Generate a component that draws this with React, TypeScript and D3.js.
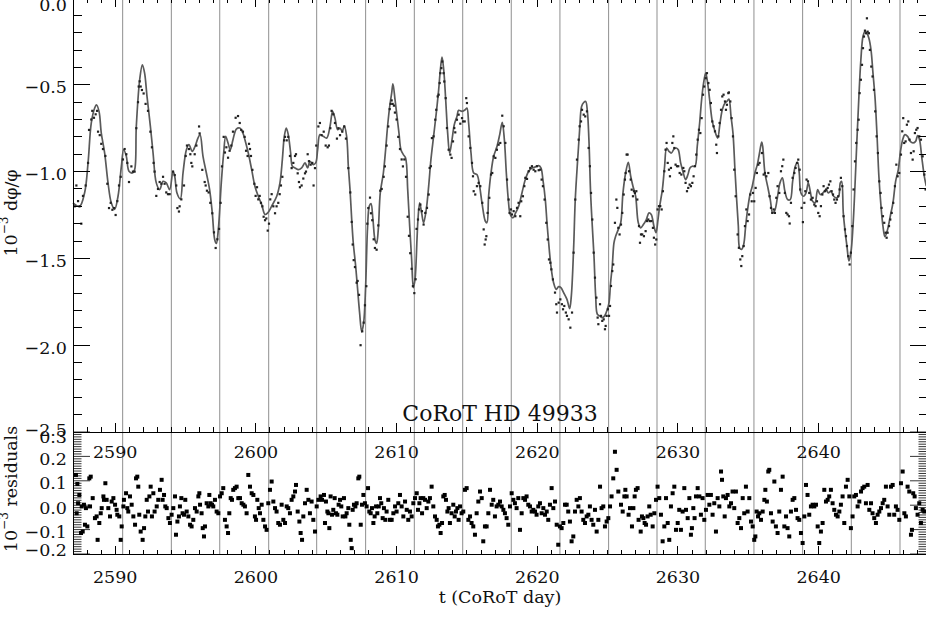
import React from 'react';
import * as d3 from 'd3';

// Model (smooth spot model): [CoRoT day, 10^-3 dphi/phi]
const modelCurve: [number, number][] = [
[2587.00,-1.18],[2587.47,-1.20],[2587.83,-1.12],[2588.07,-0.95],[2588.30,-0.72],[2588.54,-0.634],[2588.66,-0.615],[2588.85,-0.653],[2589.01,-0.778],[2589.25,-0.893],[2589.49,-1.065],[2589.72,-1.18],[2589.96,-1.218],[2590.20,-1.142],[2590.44,-0.969],[2590.60,-0.874],[2590.79,-0.912],[2590.98,-0.998],[2591.22,-1.008],[2591.38,-0.989],[2591.50,-0.739],[2591.74,-0.471],[2591.93,-0.385],[2592.09,-0.433],[2592.26,-0.567],[2592.50,-0.739],[2592.69,-0.893],[2592.92,-1.065],[2593.16,-1.104],[2593.40,-1.056],[2593.63,-1.065],[2593.87,-1.104],[2594.11,-0.998],[2594.23,-1.027],[2594.39,-1.123],[2594.63,-1.157],[2594.82,-1.008],[2595.06,-0.874],[2595.24,-0.845],[2595.48,-0.883],[2595.69,-0.851],[2595.88,-0.807],[2596.03,-0.787],[2596.24,-0.912],[2596.48,-1.008],[2596.71,-1.104],[2596.90,-1.238],[2597.07,-1.391],[2597.19,-1.414],[2597.33,-1.333],[2597.54,-1.065],[2597.71,-0.893],[2597.85,-0.797],[2598.02,-0.835],[2598.18,-0.874],[2598.37,-0.816],[2598.61,-0.755],[2598.85,-0.749],[2599.08,-0.778],[2599.22,-0.816],
[2599.46,-0.893],[2599.70,-0.989],[2599.93,-1.084],[2600.17,-1.142],[2600.41,-1.19],[2600.65,-1.247],[2600.84,-1.238],[2601.12,-1.199],[2601.48,-1.142],[2601.71,-1.065],[2601.88,-0.931],[2602.02,-0.797],[2602.16,-0.749],[2602.30,-0.787],[2602.47,-0.893],[2602.59,-0.969],[2602.78,-0.979],[2603.02,-0.989],[2603.25,-0.979],[2603.49,-0.95],[2603.68,-0.979],[2603.84,-0.941],[2604.08,-0.96],[2604.25,-0.95],[2604.39,-0.874],[2604.55,-0.787],[2604.79,-0.797],[2605.03,-0.807],[2605.27,-0.739],[2605.45,-0.653],[2605.62,-0.692],[2605.81,-0.759],[2605.98,-0.749],[2606.14,-0.768],[2606.28,-0.736],[2606.45,-0.797],[2606.57,-0.969],[2606.69,-1.104],[2606.81,-1.276],[2606.92,-1.41],[2607.09,-1.544],[2607.23,-1.678],[2607.37,-1.812],[2607.52,-1.923],[2607.66,-1.87],[2607.80,-1.659],[2607.94,-1.314],[2608.06,-1.199],[2608.18,-1.184],[2608.32,-1.276],[2608.46,-1.391],[2608.58,-1.414],[2608.70,-1.333],[2608.84,-1.123],[2609.06,-1.008],[2609.22,-0.874],[2609.36,-0.739],[2609.51,-0.625],[2609.65,-0.548],[2609.74,-0.494],[2609.89,-0.586],[2610.03,-0.682],[2610.17,-0.778],[2610.31,-0.874],[2610.48,-0.902],[2610.64,-0.922],[2610.79,-1.104],[2610.93,-1.314],[2611.07,-1.506],[2611.19,-1.669],[2611.31,-1.621],[2611.45,-1.391],
[2611.52,-1.276],[2611.64,-1.18],[2611.78,-1.238],[2611.92,-1.295],[2612.11,-1.218],[2612.28,-1.084],[2612.44,-0.931],[2612.63,-0.797],[2612.82,-0.663],[2612.99,-0.529],[2613.11,-0.414],[2613.23,-0.341],[2613.35,-0.414],[2613.49,-0.586],[2613.63,-0.778],[2613.77,-0.893],[2613.94,-0.816],[2614.10,-0.73],[2614.29,-0.682],[2614.41,-0.647],[2614.65,-0.653],[2614.88,-0.644],[2615.00,-0.634],[2615.12,-0.72],[2615.29,-0.893],[2615.48,-1.008],[2615.71,-1.017],[2615.90,-1.084],[2616.07,-1.18],[2616.31,-1.286],[2616.42,-1.295],[2616.54,-1.142],[2616.71,-1.008],[2616.90,-0.912],[2617.14,-0.854],[2617.33,-0.787],[2617.51,-0.716],[2617.66,-0.816],[2617.80,-1.008],[2617.94,-1.161],[2618.08,-1.247],[2618.27,-1.266],[2618.46,-1.238],[2618.68,-1.199],[2618.91,-1.123],[2619.15,-1.046],[2619.39,-0.998],[2619.62,-0.979],[2619.86,-0.973],[2620.10,-0.966],[2620.26,-0.979],[2620.40,-1.046],[2620.57,-1.161],[2620.69,-1.295],[2620.81,-1.41],[2620.97,-1.544],[2621.16,-1.64],[2621.35,-1.678],[2621.52,-1.663],[2621.68,-1.669],[2621.87,-1.697],[2622.11,-1.736],[2622.30,-1.789],[2622.42,-1.716],[2622.58,-1.448],[2622.70,-1.161],[2622.87,-0.931],[2623.01,-0.759],[2623.15,-0.625],[2623.30,-0.602],[2623.44,-0.596],[2623.56,-0.653],[2623.67,-0.816],
[2623.79,-1.123],[2623.91,-1.314],[2624.03,-1.487],[2624.15,-1.717],[2624.27,-1.822],[2624.43,-1.831],[2624.62,-1.841],[2624.79,-1.831],[2624.98,-1.793],[2625.10,-1.755],[2625.21,-1.64],[2625.33,-1.544],[2625.45,-1.41],[2625.57,-1.372],[2625.76,-1.333],[2625.93,-1.295],[2626.09,-1.123],[2626.28,-1.008],[2626.47,-0.946],[2626.64,-1.027],[2626.80,-1.084],[2626.99,-1.142],[2627.18,-1.295],[2627.35,-1.324],[2627.54,-1.305],[2627.75,-1.276],[2627.94,-1.238],[2628.10,-1.247],[2628.29,-1.314],[2628.44,-1.352],[2628.58,-1.276],[2628.70,-1.199],[2628.89,-1.104],[2629.05,-0.969],[2629.19,-0.864],[2629.36,-0.883],[2629.53,-0.893],[2629.72,-0.87],[2629.88,-0.864],[2630.02,-0.874],[2630.19,-0.95],[2630.38,-1.008],[2630.54,-1.046],[2630.71,-1.017],[2630.85,-0.979],[2631.02,-0.969],[2631.21,-0.969],[2631.37,-0.854],[2631.54,-0.72],[2631.68,-0.586],[2631.82,-0.49],[2631.97,-0.433],[2632.11,-0.49],[2632.25,-0.586],[2632.44,-0.711],[2632.63,-0.768],[2632.82,-0.807],[2632.99,-0.72],[2633.15,-0.644],[2633.34,-0.605],[2633.48,-0.596],[2633.62,-0.582],[2633.77,-0.682],[2633.91,-0.778],[2634.05,-0.989],[2634.17,-1.161],[2634.29,-1.314],[2634.38,-1.439],[2634.52,-1.448],[2634.67,-1.42],[2634.81,-1.314],[2634.95,-1.218],[2635.12,-1.132],[2635.28,-1.084],[2635.47,-1.008],[2635.64,-0.96],[2635.78,-0.90],[2635.95,-0.83],
[2636.02,-0.854],[2636.18,-1.008],[2636.37,-1.084],[2636.56,-1.161],[2636.73,-1.238],[2636.89,-1.222],[2637.08,-1.142],[2637.25,-1.065],[2637.42,-1.036],[2637.60,-1.113],[2637.79,-1.161],[2637.98,-1.161],[2638.15,-1.056],[2638.34,-0.969],[2638.50,-0.946],[2638.62,-1.008],[2638.74,-1.123],[2638.93,-1.142],[2639.10,-1.123],[2639.26,-1.065],[2639.40,-1.113],[2639.57,-1.171],[2639.74,-1.18],[2639.93,-1.103],[2640.11,-1.132],[2640.30,-1.123],[2640.52,-1.103],[2640.68,-1.123],[2640.87,-1.113],[2641.06,-1.142],[2641.25,-1.151],[2641.42,-1.142],[2641.54,-1.065],[2641.63,-1.056],[2641.75,-1.238],[2641.89,-1.352],[2642.01,-1.429],[2642.15,-1.515],[2642.29,-1.467],[2642.44,-1.314],[2642.58,-1.084],[2642.72,-0.816],[2642.86,-0.567],[2643.00,-0.356],[2643.15,-0.222],[2643.29,-0.193],[2643.43,-0.203],[2643.57,-0.232],[2643.72,-0.299],[2643.86,-0.433],[2644.00,-0.567],[2644.14,-0.778],[2644.28,-1.027],[2644.43,-1.199],[2644.57,-1.314],[2644.71,-1.375],[2644.90,-1.333],[2645.09,-1.257],[2645.28,-1.18],[2645.47,-1.056],[2645.66,-0.989],[2645.80,-0.893],[2645.97,-0.816],[2646.13,-0.787],[2646.32,-0.797],[2646.51,-0.826],[2646.70,-0.835],[2646.89,-0.826],[2647.03,-0.793],[2647.17,-0.816],[2647.32,-0.912],[2647.51,-1.027],[2647.65,-1.084]
];

// Observed photometry points: [CoRoT day, 10^-3 dphi/phi]
const observed: [number, number][] = [
[2587.12,-1.20],[2587.24,-1.08],[2587.36,-1.17],[2587.47,-1.20],[2587.59,-1.30],[2587.71,-1.14],[2587.90,-1.08],[2588.07,-0.95],[2588.14,-0.76],[2588.30,-0.70],[2588.37,-0.65],[2588.49,-0.69],[2588.61,-0.67],[2588.71,-0.65],[2588.78,-0.77],[2588.90,-0.79],[2589.01,-0.84],[2589.13,-0.87],[2589.30,-0.91],[2589.44,-1.07],[2589.56,-1.21],[2589.68,-1.18],[2589.80,-1.22],[2589.91,-1.21],[2590.03,-1.25],[2590.15,-1.17],[2590.27,-1.08],[2590.39,-1.03],[2590.55,-0.93],[2590.67,-0.87],[2590.79,-0.90],[2590.86,-0.95],[2590.98,-1.06],[2591.15,-0.97],[2591.26,-1.00],[2591.38,-1.00],[2591.50,-0.75],[2591.62,-0.60],[2591.67,-0.51],[2591.74,-0.48],[2591.81,-0.51],[2591.90,-0.53],[2592.02,-0.55],[2592.16,-0.61],[2592.33,-0.65],[2592.50,-0.77],[2592.61,-0.86],[2592.73,-0.95],[2592.80,-1.00],[2592.92,-1.14],[2593.04,-1.10],[2593.16,-1.06],[2593.28,-1.07],[2593.40,-1.03],[2593.51,-1.07],[2593.63,-1.12],[2593.75,-1.13],[2593.87,-1.13],[2594.11,-1.00],[2594.23,-1.02],[2594.34,-1.08],[2594.42,-1.21],[2594.53,-1.23],[2594.58,-1.20],[2594.70,-1.16],[2594.89,-1.08],[2595.01,-0.91],[2595.10,-0.85],[2595.24,-0.87],[2595.34,-0.90],[2595.41,-0.95],[2595.48,-0.97],[2595.65,-0.90],[2595.77,-0.85],[2595.96,-0.74],[2596.00,-0.78],[2596.19,-0.99],[2596.36,-1.06],[2596.43,-1.08],[2596.52,-1.11],[2596.64,-1.12],[2596.76,-1.18],[2596.90,-1.24],[2597.02,-1.35],[2597.14,-1.44],[2597.26,-1.39],[2597.38,-1.33],[2597.49,-1.18],[2597.59,-0.97],[2597.71,-0.80],[2597.80,-0.89],[2597.90,-0.86],[2598.02,-0.92],[2598.13,-0.88],[2598.25,-0.85],[2598.37,-0.77],[2598.56,-0.69],[2598.73,-0.68],[2598.85,-0.72],[2598.96,-0.76],[2599.08,-0.77],[2599.20,-0.80],
[2599.30,-0.88],[2599.41,-0.91],[2599.51,-0.84],[2599.58,-0.87],[2599.65,-0.91],[2599.75,-0.99],[2599.89,-1.07],[2599.98,-1.14],[2600.08,-1.09],[2600.17,-1.16],[2600.27,-1.14],[2600.36,-1.18],[2600.46,-1.20],[2600.55,-1.26],[2600.65,-1.28],[2600.74,-1.27],[2600.84,-1.34],[2600.93,-1.30],[2601.02,-1.16],[2601.12,-1.13],[2601.24,-1.20],[2601.36,-1.24],[2601.47,-1.20],[2601.59,-1.18],[2601.69,-1.13],[2601.78,-1.08],[2601.88,-1.03],[2602.00,-0.82],[2602.07,-0.80],[2602.19,-0.82],[2602.30,-0.80],[2602.42,-0.91],[2602.54,-0.98],[2602.66,-0.95],[2602.78,-0.91],[2602.85,-0.90],[2602.97,-1.01],[2603.06,-1.06],[2603.13,-1.09],[2603.25,-1.08],[2603.37,-1.04],[2603.49,-1.01],[2603.56,-1.00],[2603.68,-0.90],[2603.77,-0.94],[2603.89,-0.96],[2604.01,-0.95],[2604.10,-1.08],[2604.20,-0.98],[2604.29,-0.85],[2604.44,-0.74],[2604.55,-0.72],[2604.67,-0.79],[2604.82,-0.77],[2604.96,-0.85],[2605.10,-0.86],[2605.19,-0.85],[2605.29,-0.75],[2605.38,-0.65],[2605.50,-0.67],[2605.62,-0.72],[2605.76,-0.81],[2605.86,-0.75],[2605.98,-0.79],[2606.14,-0.77],[2606.28,-0.74],[2606.40,-0.81],[2606.57,-0.98],[2606.71,-1.12],[2606.81,-1.29],[2606.88,-1.42],[2606.95,-1.51],[2607.04,-1.55],[2607.16,-1.64],[2607.23,-1.63],[2607.33,-1.71],[2607.44,-2.00],[2607.56,-1.92],[2607.66,-1.87],[2607.75,-1.77],[2607.85,-1.66],[2607.92,-1.30],[2607.99,-1.21],[2608.11,-1.15],[2608.18,-1.24],[2608.27,-1.28],[2608.37,-1.39],[2608.46,-1.44],[2608.58,-1.45],[2608.70,-1.31],[2608.84,-1.11],[2608.94,-1.10],[2609.08,-1.03],[2609.17,-0.97],[2609.29,-0.85],[2609.41,-0.74],[2609.51,-0.64],[2609.58,-0.61],[2609.65,-0.59],[2609.72,-0.61],[2609.81,-0.62],[2609.88,-0.66],[2610.00,-0.70],[2610.12,-0.80],[2610.24,-0.87],[2610.36,-0.93],[2610.45,-0.97],[2610.55,-0.93],[2610.67,-1.03],[2610.79,-1.26],[2610.88,-1.37],[2610.97,-1.47],[2611.07,-1.56],[2611.16,-1.66],[2611.26,-1.70],[2611.35,-1.62],[2611.42,-1.33],
[2611.52,-1.276],[2611.59,-1.218],[2611.69,-1.19],[2611.80,-1.228],[2611.92,-1.305],[2612.04,-1.238],[2612.16,-1.209],[2612.28,-1.132],[2612.35,-0.979],[2612.44,-0.969],[2612.51,-0.807],[2612.63,-0.797],[2612.75,-0.701],[2612.82,-0.644],[2612.92,-0.567],[2612.99,-0.557],[2613.06,-0.49],[2613.11,-0.433],[2613.18,-0.404],[2613.25,-0.366],[2613.34,-0.433],[2613.39,-0.481],[2613.49,-0.577],[2613.58,-0.749],[2613.70,-0.874],[2613.82,-0.902],[2613.91,-0.921],[2614.01,-0.826],[2614.10,-0.749],[2614.17,-0.774],[2614.29,-0.701],[2614.41,-0.672],[2614.53,-0.724],[2614.65,-0.692],[2614.72,-0.711],[2614.84,-0.711],[2614.95,-0.577],[2615.00,-0.605],[2615.12,-0.797],[2615.24,-0.864],[2615.36,-0.95],[2615.43,-1.027],[2615.48,-1.113],[2615.59,-1.132],[2615.71,-1.084],[2615.83,-1.065],[2615.95,-1.084],[2616.09,-1.18],[2616.19,-1.333],[2616.26,-1.42],[2616.33,-1.391],[2616.38,-1.372],[2616.47,-1.238],[2616.59,-1.151],[2616.71,-1.017],[2616.80,-1.008],[2616.90,-0.912],[2617.02,-0.921],[2617.13,-0.874],[2617.25,-0.845],[2617.37,-0.835],[2617.51,-0.678],[2617.61,-0.739],[2617.73,-0.835],[2617.85,-1.046],[2617.96,-1.161],[2618.03,-1.238],[2618.13,-1.218],[2618.20,-1.247],[2618.32,-1.228],[2618.44,-1.257],[2618.56,-1.209],[2618.67,-1.18],[2618.79,-1.257],[2618.86,-1.171],[2618.98,-1.142],[2619.08,-1.084],[2619.15,-1.036],[2619.27,-1.042],[2619.39,-0.998],[2619.50,-0.979],[2619.62,-0.969],[2619.74,-0.989],[2619.86,-0.998],[2619.98,-0.969],[2620.10,-0.992],[2620.21,-0.989],[2620.31,-1.046],[2620.40,-1.084],[2620.52,-1.161],[2620.64,-1.295],[2620.74,-1.391],[2620.83,-1.506],[2620.93,-1.525],[2621.00,-1.563],[2621.11,-1.621],[2621.26,-1.697],[2621.35,-1.764],[2621.40,-1.812],[2621.52,-1.755],[2621.64,-1.736],[2621.75,-1.764],[2621.83,-1.793],[2621.92,-1.774],[2622.03,-1.812],[2622.11,-1.831],[2622.23,-1.851],[2622.35,-1.899],[2622.47,-1.812],[2622.58,-1.467],[2622.70,-1.161],[2622.82,-0.931],[2622.94,-0.816],[2623.01,-0.739],[2623.11,-0.711],[2623.18,-0.644],[2623.30,-0.672],[2623.41,-0.682],[2623.53,-0.653],[2623.65,-0.864],
[2623.74,-0.969],[2623.82,-1.123],[2623.91,-1.276],[2624.01,-1.467],[2624.10,-1.611],[2624.20,-1.726],[2624.29,-1.841],[2624.34,-1.879],[2624.46,-1.764],[2624.53,-1.831],[2624.62,-1.86],[2624.72,-1.851],[2624.81,-1.908],[2624.86,-1.889],[2624.93,-1.831],[2625.02,-1.793],[2625.10,-1.831],[2625.17,-1.774],[2625.24,-1.659],[2625.33,-1.573],[2625.40,-1.535],[2625.52,-1.295],[2625.62,-1.161],[2625.69,-1.209],[2625.76,-1.324],[2625.85,-1.362],[2625.95,-1.305],[2626.04,-1.238],[2626.14,-1.132],[2626.23,-1.046],[2626.28,-1.008],[2626.35,-0.902],[2626.42,-0.902],[2626.52,-0.998],[2626.64,-1.046],[2626.71,-1.104],[2626.80,-1.142],[2626.87,-1.113],[2626.94,-1.123],[2627.04,-1.113],[2627.11,-1.161],[2627.23,-1.314],[2627.30,-1.41],[2627.37,-1.362],[2627.46,-1.362],[2627.58,-1.372],[2627.70,-1.343],[2627.80,-1.285],[2627.89,-1.276],[2627.99,-1.285],[2628.10,-1.285],[2628.22,-1.324],[2628.29,-1.381],[2628.38,-1.42],[2628.46,-1.391],[2628.55,-1.218],[2628.65,-1.199],[2628.74,-1.199],[2628.84,-1.218],[2628.93,-1.113],[2629.03,-0.998],[2629.12,-0.874],[2629.19,-0.835],[2629.27,-0.95],[2629.36,-0.989],[2629.43,-1.027],[2629.50,-0.979],[2629.60,-0.835],[2629.67,-0.797],[2629.74,-0.864],[2629.83,-0.96],[2629.93,-0.969],[2630.02,-0.969],[2630.12,-1.008],[2630.24,-1.017],[2630.38,-0.979],[2630.45,-0.998],[2630.54,-1.065],[2630.64,-1.113],[2630.73,-1.094],[2630.83,-1.075],[2630.92,-1.084],[2631.02,-1.065],[2631.11,-1.027],[2631.21,-0.969],[2631.30,-0.902],[2631.40,-0.816],[2631.49,-0.759],[2631.59,-0.778],[2631.68,-0.692],[2631.78,-0.557],[2631.87,-0.51],[2631.97,-0.462],[2632.06,-0.433],[2632.16,-0.49],[2632.25,-0.529],[2632.34,-0.605],[2632.44,-0.711],[2632.53,-0.739],[2632.63,-0.768],[2632.72,-0.845],[2632.77,-0.893],[2632.87,-0.797],[2632.96,-0.72],[2633.06,-0.644],[2633.15,-0.567],[2633.24,-0.557],[2633.34,-0.596],[2633.41,-0.644],[2633.48,-0.615],[2633.58,-0.548],[2633.62,-0.544],[2633.72,-0.596],[2633.81,-0.692],[2633.91,-0.797],[2634.00,-0.989],[2634.10,-1.142],[2634.24,-1.362],[2634.33,-1.439],[2634.43,-1.506],[2634.50,-1.544],[2634.57,-1.487],[2634.67,-1.429],[2634.76,-1.314],[2634.86,-1.218],[2634.95,-1.285],[2635.05,-1.247],[2635.14,-1.132],[2635.24,-1.171],[2635.33,-1.123],[2635.42,-1.171],[2635.52,-1.094],[2635.61,-1.008],[2635.71,-0.96],[2635.80,-0.95],
[2635.97,-0.893],[2636.09,-1.017],[2636.18,-1.008],[2636.28,-1.027],[2636.42,-1.008],[2636.51,-1.142],[2636.61,-1.209],[2636.70,-1.238],[2636.80,-1.218],[2636.89,-1.238],[2636.99,-1.151],[2637.08,-1.084],[2637.20,-1.123],[2637.32,-0.998],[2637.41,-0.969],[2637.49,-0.931],[2637.60,-1.123],[2637.70,-1.238],[2637.79,-1.247],[2637.89,-1.257],[2637.94,-1.299],[2638.03,-1.18],[2638.15,-1.036],[2638.27,-1.008],[2638.36,-0.979],[2638.46,-0.95],[2638.55,-0.931],[2638.65,-0.989],[2638.69,-1.103],[2638.79,-1.209],[2638.88,-1.291],[2638.98,-1.18],[2639.05,-1.113],[2639.14,-1.046],[2639.24,-1.056],[2639.33,-1.123],[2639.45,-1.161],[2639.57,-1.151],[2639.69,-1.19],[2639.78,-1.199],[2639.88,-1.171],[2639.97,-1.238],[2640.07,-1.257],[2640.16,-1.199],[2640.26,-1.132],[2640.35,-1.084],[2640.45,-1.113],[2640.54,-1.103],[2640.64,-1.094],[2640.73,-1.075],[2640.83,-1.056],[2640.92,-1.113],[2641.02,-1.132],[2641.11,-1.161],[2641.20,-1.18],[2641.30,-1.161],[2641.39,-1.142],[2641.49,-1.103],[2641.58,-1.036],[2641.68,-1.084],[2641.77,-1.257],[2641.87,-1.333],[2641.94,-1.372],[2642.01,-1.429],[2642.10,-1.487],[2642.20,-1.535],[2642.29,-1.467],[2642.39,-1.314],[2642.48,-1.103],[2642.58,-0.941],[2642.67,-0.835],[2642.77,-0.759],[2642.84,-0.701],[2642.91,-0.548],[2643.00,-0.471],[2643.08,-0.385],[2643.15,-0.289],[2643.22,-0.222],[2643.29,-0.188],[2643.36,-0.203],[2643.43,-0.117],[2643.48,-0.194],[2643.57,-0.203],[2643.64,-0.299],[2643.74,-0.395],[2643.83,-0.452],[2643.93,-0.529],[2644.02,-0.653],[2644.12,-0.797],[2644.21,-0.893],[2644.31,-1.056],[2644.40,-1.123],[2644.47,-1.209],[2644.57,-1.257],[2644.66,-1.295],[2644.76,-1.352],[2644.83,-1.381],[2644.90,-1.352],[2645.00,-1.314],[2645.09,-1.276],[2645.19,-1.238],[2645.30,-1.18],[2645.42,-1.084],[2645.52,-0.96],[2645.61,-1.027],[2645.73,-1.008],[2645.85,-0.902],[2645.94,-0.768],[2646.01,-0.692],[2646.08,-0.835],[2646.18,-0.826],[2646.27,-0.73],[2646.37,-0.711],[2646.46,-0.816],[2646.56,-0.893],[2646.68,-0.931],[2646.75,-0.883],[2646.84,-0.778],[2646.94,-0.759],[2647.03,-0.749],[2647.15,-0.797],[2647.27,-0.816],[2647.39,-0.912],[2647.51,-1.017],[2647.60,-1.103]
];

// Residuals (observed - model): [CoRoT day, 10^-3 residual]
const residuals: [number, number][] = [
[2587.21,0.124],[2587.26,-0.033],[2587.31,0.087],[2587.36,0.008],[2587.45,0.042],[2587.57,-0.114],[2587.62,-0.005],[2587.69,-0.108],[2587.78,0.002],[2587.85,-0.080],[2587.92,-0.012],[2588.02,-0.087],[2588.16,0.110],[2588.21,-0.005],[2588.26,0.117],[2588.40,0.029],[2588.56,-0.053],[2588.68,-0.046],[2588.75,-0.142],[2588.87,-0.073],[2588.97,-0.033],[2589.04,-0.012],[2589.16,0.036],[2589.20,0.022],[2589.30,0.090],[2589.39,0.022],[2589.51,-0.012],[2589.63,-0.046],[2589.75,0.015],[2589.87,0.029],[2589.99,0.002],[2590.10,-0.019],[2590.15,-0.039],[2590.29,-0.046],[2590.39,-0.142],[2590.46,-0.087],[2590.58,-0.005],[2590.62,0.022],[2590.77,0.049],[2590.86,-0.012],[2590.93,-0.026],[2591.05,0.036],[2591.17,0.002],[2591.29,-0.046],[2591.41,-0.080],[2591.48,0.110],[2591.57,0.117],[2591.64,0.076],[2591.71,-0.039],[2591.81,-0.108],[2591.95,-0.142],[2592.05,-0.094],[2592.14,-0.046],[2592.24,0.022],[2592.33,-0.026],[2592.43,0.036],[2592.52,0.076],[2592.61,-0.046],[2592.71,0.049],[2592.80,-0.026],[2592.95,-0.005],[2593.06,0.022],[2593.18,0.063],[2593.30,0.104],[2593.37,0.022],[2593.47,0.042],[2593.56,-0.005],[2593.66,-0.012],[2593.78,-0.053],[2593.89,-0.073],[2594.01,-0.039],[2594.13,-0.012],[2594.25,0.036],[2594.32,-0.121],[2594.42,-0.067],[2594.53,-0.046],[2594.60,-0.005],[2594.70,0.029],[2594.79,-0.033],[2594.89,-0.039],[2594.98,0.022],[2595.08,-0.026],[2595.20,-0.046],[2595.32,-0.080],[2595.43,-0.087],[2595.55,-0.060],[2595.67,-0.012],[2595.79,-0.026],[2595.91,0.036],[2595.98,0.049],[2596.03,0.002],[2596.14,-0.033],[2596.22,-0.094],[2596.31,-0.128],[2596.38,-0.087],[2596.50,0.008],[2596.62,-0.005],[2596.69,0.042],[2596.78,0.008],[2596.88,0.002],[2596.97,-0.005],[2597.09,0.022],[2597.21,-0.026],[2597.33,-0.033],[2597.45,0.036],[2597.57,0.049],[2597.68,0.070],[2597.80,-0.060],[2597.92,-0.087],[2598.02,-0.114],[2598.11,-0.033],[2598.21,0.029],[2598.30,0.022],[2598.39,0.063],[2598.51,0.070],[2598.63,0.076],[2598.75,0.029],[2598.87,0.029],[2598.99,0.008],[2599.11,0.002],[2599.22,-0.005],[2599.34,-0.033],[2599.46,0.124],[2599.58,0.076],[2599.70,0.049],[2599.82,0.042],[2599.93,-0.046],[2600.01,-0.060],[2600.10,0.022],[2600.20,-0.012],[2600.29,-0.033],[2600.41,0.002],[2600.53,-0.060],[2600.65,-0.087],[2600.76,-0.101],[2600.88,0.008],[2601.00,0.063],[2601.12,0.097],[2601.24,0.015],[2601.36,-0.012],[2601.47,-0.026],[2601.59,-0.073],[2601.71,-0.080],[2601.83,0.002],[2601.95,-0.060],[2602.07,-0.073],[2602.19,-0.005],[2602.30,-0.012],[2602.42,-0.033],[2602.54,0.022],[2602.66,0.036],[2602.78,0.056],[2602.85,0.083],[2602.97,-0.026],[2603.09,-0.067],[2603.18,-0.114],[2603.28,-0.142],[2603.37,-0.046],[2603.49,0.008],[2603.61,0.063],[2603.73,0.022],[2603.84,-0.033],[2603.96,0.015],[2604.08,-0.060],[2604.20,-0.108],[2604.32,-0.005],[2604.44,0.022],
[2604.60,0.036],[2604.70,0.022],[2604.84,0.042],[2604.91,-0.073],[2604.98,0.015],[2605.08,-0.026],[2605.15,-0.033],[2605.22,-0.094],[2605.31,0.036],[2605.41,-0.039],[2605.50,-0.019],[2605.60,0.029],[2605.69,-0.033],[2605.79,-0.039],[2605.88,0.002],[2605.98,0.022],[2606.07,-0.005],[2606.17,-0.046],[2606.26,0.029],[2606.36,-0.046],[2606.45,-0.033],[2606.57,-0.012],[2606.64,-0.080],[2606.74,-0.142],[2606.81,-0.176],[2606.88,-0.019],[2606.97,0.002],[2607.07,-0.005],[2607.16,0.008],[2607.28,0.110],[2607.35,0.117],[2607.45,-0.080],[2607.54,0.002],[2607.64,0.042],[2607.75,0.008],[2607.87,-0.005],[2607.97,0.070],[2608.06,-0.026],[2608.16,-0.033],[2608.25,-0.012],[2608.35,-0.073],[2608.44,-0.046],[2608.54,-0.005],[2608.63,-0.033],[2608.73,-0.005],[2608.82,0.029],[2608.91,0.008],[2609.01,-0.053],[2609.10,-0.012],[2609.20,-0.060],[2609.29,-0.026],[2609.41,0.022],[2609.53,-0.060],[2609.65,-0.060],[2609.77,-0.033],[2609.89,-0.005],[2610.00,-0.026],[2610.12,0.008],[2610.24,0.042],[2610.36,-0.005],[2610.48,-0.046],[2610.60,0.015],[2610.72,-0.019],[2610.83,-0.060],[2610.95,-0.026],[2611.07,-0.046],[2611.19,0.008],[2611.31,0.029],[2611.43,0.049],[2611.52,-0.019],[2611.62,0.008],[2611.71,0.029],[2611.81,-0.033],[2611.90,0.029],[2612.02,0.022],[2612.14,-0.012],[2612.26,0.015],[2612.37,0.029],[2612.49,0.076],[2612.61,-0.005],[2612.73,-0.046],[2612.85,-0.060],[2612.94,-0.087],[2613.04,-0.080],[2613.13,-0.114],[2613.23,-0.073],[2613.32,0.036],[2613.42,0.042],[2613.51,0.022],[2613.61,-0.026],[2613.70,-0.012],[2613.79,-0.073],[2613.91,-0.033],[2614.03,0.002],[2614.13,-0.046],[2614.22,-0.026],[2614.32,-0.012],[2614.41,-0.060],[2614.51,-0.005],[2614.62,-0.033],[2614.74,-0.026],[2614.86,0.063],[2614.98,0.070],[2615.10,-0.060],[2615.22,-0.046],[2615.33,-0.073],[2615.45,-0.087],[2615.57,-0.121],[2615.69,-0.033],[2615.81,0.015],[2615.93,0.056],[2616.05,0.029],[2616.16,-0.148],[2616.28,-0.087],[2616.40,-0.087],[2616.52,-0.033],[2616.64,0.063],[2616.76,0.002],[2616.87,0.022],[2616.99,-0.046],[2617.11,-0.005],[2617.23,0.002],[2617.35,0.015],[2617.47,-0.005],[2617.59,-0.019],[2617.70,-0.033],[2617.82,-0.053],[2617.94,-0.080],[2618.06,-0.005],[2618.18,0.049],[2618.30,0.022],[2618.41,0.008],[2618.53,-0.012],[2618.65,0.029],[2618.77,-0.101],[2618.89,-0.033],[2619.01,0.029],[2619.13,0.022],[2619.24,0.036],[2619.36,0.002],[2619.48,-0.005],[2619.60,-0.026],[2619.72,-0.019],[2619.84,-0.026],[2619.95,-0.039],[2620.07,-0.005],[2620.19,0.008],[2620.31,-0.033],[2620.43,-0.012],[2620.55,-0.039],[2620.67,-0.026],[2620.78,-0.060],[2620.90,0.002],[2621.02,0.070],[2621.14,-0.012],[2621.26,0.015],[2621.38,-0.080],[2621.49,-0.162],[2621.61,-0.087],[2621.73,-0.094],[2621.85,-0.073],[2621.97,0.002],[2622.09,0.002],[2622.20,-0.026],[2622.32,-0.067],[2622.44,-0.148],[2622.56,-0.128],[2622.68,-0.026],[2622.80,0.022],[2622.92,-0.005],[2623.03,0.029],[2623.15,-0.026],[2623.27,-0.060],[2623.39,-0.073],[2623.51,-0.046],[2623.63,-0.039],[2623.74,-0.005],[2623.86,-0.060],[2623.98,-0.080],[2624.10,-0.019],[2624.22,-0.108],[2624.34,-0.060],[2624.46,0.076],[2624.57,-0.012],[2624.69,-0.005],[2624.81,-0.087],[2624.93,-0.067],[2625.05,-0.053],[2625.17,-0.005],[2625.28,0.036],[2625.40,0.110],[2625.52,0.219],[2625.64,0.145],[2625.76,0.056],
[2625.95,0.002],[2626.07,-0.026],[2626.19,0.036],[2626.26,0.063],[2626.35,0.036],[2626.49,-0.039],[2626.59,-0.012],[2626.73,-0.087],[2626.83,-0.012],[2626.92,0.036],[2627.01,0.063],[2627.13,0.070],[2627.20,-0.060],[2627.35,-0.108],[2627.44,-0.046],[2627.54,-0.053],[2627.63,-0.073],[2627.73,-0.080],[2627.84,-0.046],[2627.96,-0.005],[2628.06,-0.039],[2628.20,-0.087],[2628.32,-0.033],[2628.44,0.022],[2628.55,0.076],[2628.67,0.029],[2628.79,-0.039],[2628.91,-0.148],[2629.03,-0.087],[2629.15,0.029],[2629.27,-0.073],[2629.38,-0.142],[2629.50,-0.005],[2629.62,0.049],[2629.74,0.076],[2629.86,-0.101],[2629.98,-0.073],[2630.09,-0.019],[2630.21,-0.101],[2630.33,-0.026],[2630.45,0.070],[2630.57,-0.019],[2630.69,-0.053],[2630.81,0.029],[2630.92,-0.121],[2630.99,-0.094],[2631.09,-0.012],[2631.18,-0.053],[2631.28,0.036],[2631.40,0.070],[2631.52,0.036],[2631.63,-0.039],[2631.75,0.029],[2631.87,-0.060],[2631.99,-0.019],[2632.11,0.042],[2632.23,0.002],[2632.34,0.042],[2632.46,-0.039],[2632.58,0.008],[2632.70,-0.108],[2632.82,0.029],[2632.94,-0.005],[2633.06,0.138],[2633.13,0.104],[2633.22,0.036],[2633.32,-0.046],[2633.41,0.029],[2633.53,0.042],[2633.65,-0.005],[2633.77,0.008],[2633.88,0.056],[2634.00,-0.012],[2634.12,0.056],[2634.24,-0.073],[2634.36,-0.053],[2634.48,-0.094],[2634.60,0.029],[2634.71,-0.033],[2634.83,0.076],[2634.95,-0.026],[2635.07,0.029],[2635.19,-0.067],[2635.31,-0.087],[2635.42,-0.142],[2635.50,-0.128],[2635.59,-0.026],[2635.69,-0.046],[2635.78,-0.033],[2635.90,-0.060],[2636.02,-0.026],[2636.14,0.022],[2636.21,0.063],[2636.32,0.015],[2636.42,0.138],[2636.49,0.145],[2636.61,-0.033],[2636.73,-0.067],[2636.85,0.097],[2636.96,-0.087],[2637.08,-0.114],[2637.20,-0.026],[2637.32,0.063],[2637.44,0.117],[2637.56,-0.087],[2637.68,-0.046],[2637.79,-0.094],[2637.91,-0.128],[2638.03,-0.026],[2638.15,0.022],[2638.27,0.029],[2638.39,-0.019],[2638.50,-0.053],[2638.62,-0.060],[2638.74,-0.114],[2638.86,-0.155],[2638.98,-0.046],[2639.10,0.083],[2639.21,0.042],[2639.33,-0.039],[2639.45,-0.005],[2639.57,0.002],[2639.69,-0.005],[2639.81,0.002],[2639.93,-0.087],[2640.04,-0.155],[2640.16,-0.108],[2640.28,-0.073],[2640.40,0.063],[2640.52,0.015],[2640.64,0.022],[2640.75,0.036],[2640.87,0.063],[2640.99,0.008],[2641.11,-0.019],[2641.23,-0.039],[2641.35,-0.046],[2641.47,-0.026],[2641.58,0.002],[2641.70,0.036],[2641.82,-0.073],[2641.94,0.076],[2642.06,0.104],[2642.18,0.036],[2642.29,-0.094],[2642.41,-0.046],[2642.53,0.036],[2642.65,0.042],[2642.77,-0.005],[2642.89,0.015],[2643.01,0.056],[2643.12,0.070],[2643.24,0.076],[2643.36,0.008],[2643.48,0.083],[2643.60,-0.019],[2643.72,0.008],[2643.83,-0.033],[2643.95,-0.053],[2644.07,-0.073],[2644.19,-0.039],[2644.31,-0.026],[2644.43,-0.012],[2644.55,0.008],[2644.66,0.022],[2644.78,0.076],[2644.90,-0.005],[2645.02,-0.039],[2645.14,0.076],[2645.26,0.083],[2645.37,-0.039],[2645.49,-0.005],[2645.61,-0.019],[2645.73,-0.060],[2645.85,0.090],[2645.97,0.138],[2646.09,-0.033],[2646.20,-0.046],[2646.32,0.076],[2646.44,0.056],[2646.56,-0.121],[2646.63,-0.101],[2646.72,0.049],[2646.82,0.036],[2646.91,-0.012],[2647.03,-0.039],[2647.15,0.008],[2647.27,-0.073],[2647.39,-0.019],[2647.51,-0.026]
];

// Rotation-period markers (CoRoT day)
const rotationMarks = [2590.53, 2593.99, 2597.43, 2600.91, 2604.32, 2607.80, 2611.26, 2614.70, 2618.15, 2621.61, 2625.07, 2628.51, 2631.94, 2635.40, 2638.86, 2642.32, 2645.78];

const xTickLabels = [2590, 2600, 2610, 2620, 2630, 2640];
const yTopLabels = [0, -0.5, -1.0, -1.5, -2.0, -2.5];
const yResLabels = [0.3, 0.2, 0.1, 0.0, -0.1, -0.2];
const xDomain: [number, number] = [2587, 2647.7];
const yTopDomain: [number, number] = [0, -2.5];
const yResDomain: [number, number] = [0.3, -0.2];

const W = 926, H = 617;
const L = 73, R = 927, TOP = -2, MID = 432, BOT = 554;
const FONT = "'DejaVu Serif', 'Liberation Serif', serif";

const fmt = (v: number) => {
  const s = Math.abs(v).toFixed(1);
  return (v < -1e-9 ? '\u2212' : '') + s;
};

export default function App() {
  const x = d3.scaleLinear().domain(xDomain).range([L, R]);
  const yTop = d3.scaleLinear().domain(yTopDomain).range([TOP, MID]);
  const yRes = d3.scaleLinear().domain(yResDomain).range([MID, BOT]);

  const line = d3.line<[number, number]>()
    .x(d => x(d[0]))
    .y(d => yTop(d[1]))
    .curve(d3.curveCatmullRom.alpha(0.5));

  const xMinor = d3.range(2587, 2648, 1);
  const topMinor = d3.range(0, 26).map(i => ({ v: -i / 10, major: i % 5 === 0 }));
  const resMinor = d3.range(0, 51).map(i => ({ v: 0.3 - i / 100, major: i % 10 === 0 }));

  const tickStroke = { stroke: '#000', strokeWidth: 1, shapeRendering: 'crispEdges' as const };

  return (
    <svg width={W} height={H} style={{ position: 'absolute', left: 0, top: 0, background: '#fff' }}
      fontFamily={FONT}>
      <rect x={0} y={0} width={W} height={H} fill="#fff" />
      {/* rotation markers */}
      {rotationMarks.map((t, i) => (
        <line key={'rm' + i} x1={x(t)} x2={x(t)} y1={TOP} y2={BOT} stroke="#8f8f8f" strokeWidth={1} />
      ))}
      {/* model curve */}
      <path d={line(modelCurve) || ''} fill="none" stroke="#5a5a5a" strokeWidth={1.7} />
      {/* observed points */}
      {observed.map((d, i) => (
        <rect key={'o' + i} x={x(d[0]) - 1.1} y={yTop(d[1]) - 1.1} width={2.2} height={2.2} fill="#222" />
      ))}
      {/* residuals */}
      {residuals.map((d, i) => (
        <rect key={'r' + i} x={x(d[0]) - 2} y={yRes(d[1]) - 2} width={4} height={4} fill="#000" />
      ))}

      {/* frames */}
      <rect x={L} y={TOP} width={R - L} height={MID - TOP} fill="none" stroke="#000" strokeWidth={1} shapeRendering="crispEdges" />
      <rect x={L} y={MID} width={R - L} height={BOT - MID} fill="none" stroke="#000" strokeWidth={1} shapeRendering="crispEdges" />

      {/* x ticks */}
      {xMinor.map(t => {
        const major = t % 10 === 0;
        const xp = x(t);
        return (
          <g key={'xt' + t}>
            <line x1={xp} x2={xp} y1={TOP} y2={TOP + (major ? 9 : 5)} {...tickStroke} />
            <line x1={xp} x2={xp} y1={MID} y2={MID - (major ? 9 : 5)} {...tickStroke} />
            <line x1={xp} x2={xp} y1={BOT} y2={BOT - (major ? 8 : 4)} {...tickStroke} />
          </g>
        );
      })}
      {/* top panel y ticks */}
      {topMinor.map((d, i) => {
        const yp = yTop(d.v);
        const len = d.major ? 17 : 8.5;
        return (
          <g key={'yt' + i}>
            <line x1={L} x2={L + len} y1={yp} y2={yp} {...tickStroke} />
            <line x1={R} x2={R - len} y1={yp} y2={yp} {...tickStroke} />
          </g>
        );
      })}
      {/* residual panel y ticks */}
      {resMinor.map((d, i) => {
        const yp = yRes(d.v);
        const len = d.major ? 17 : 8.5;
        return (
          <g key={'yr' + i}>
            <line x1={L} x2={L + len} y1={yp} y2={yp} stroke="#000" strokeWidth={0.8} />
            <line x1={R} x2={R - len} y1={yp} y2={yp} stroke="#000" strokeWidth={0.8} />
          </g>
        );
      })}

      {/* labels */}
      <g fontSize={17.5} fill="#111">
        {yTopLabels.map((v, i) => {
          const c = Math.min(Math.max(yTop(v) + 2, 5), 430);
          return <text key={'ytl' + i} x={67} y={c + 6.3} textAnchor="end">{fmt(v)}</text>;
        })}
        {yResLabels.map((v, i) => {
          const c = Math.min(Math.max(yRes(v) + 2, 437), 550);
          return <text key={'yrl' + i} x={67} y={c + 6.3} textAnchor="end">{fmt(v)}</text>;
        })}
        {xTickLabels.map(t => (
          <text key={'xl1' + t} x={x(t)} y={458} textAnchor="middle">{t}</text>
        ))}
        {xTickLabels.map(t => (
          <text key={'xl2' + t} x={x(t)} y={583} textAnchor="middle">{t}</text>
        ))}
        <text x={(L + R) / 2} y={603} textAnchor="middle">t (CoRoT day)</text>
        <text transform={`translate(17,213) rotate(-90)`} textAnchor="middle">
          10<tspan dy={-9} fontSize={12}>{'\u22123'}</tspan><tspan dy={9}>{' d\u03c6/\u03c6'}</tspan>
        </text>
        <text transform={`translate(17,489) rotate(-90)`} textAnchor="middle">
          10<tspan dy={-9} fontSize={12}>{'\u22123'}</tspan><tspan dy={9}>{' residuals'}</tspan>
        </text>
      </g>
      <text x={(L + R) / 2} y={421} textAnchor="middle" fontSize={22} fill="#111">CoRoT HD 49933</text>
    </svg>
  );
}
